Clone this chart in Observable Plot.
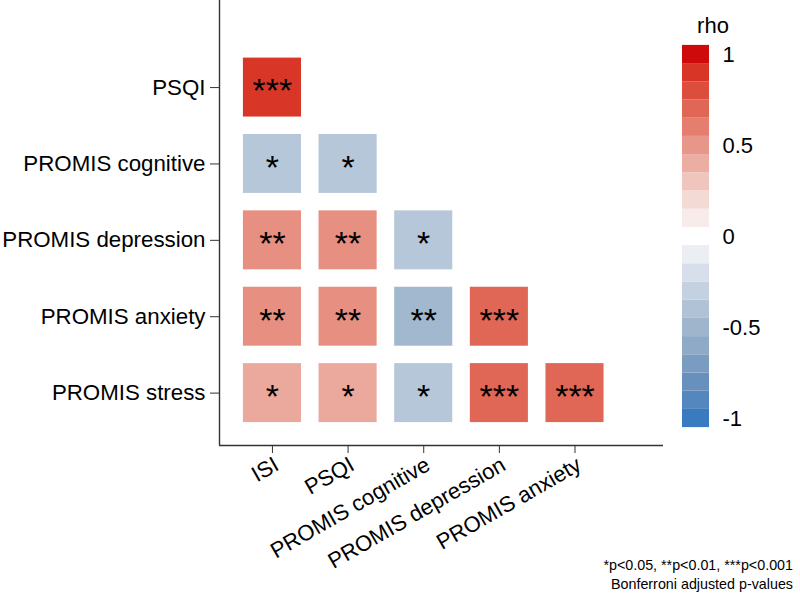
<!DOCTYPE html>
<html>
<head>
<meta charset="utf-8">
<script src="https://cdn.jsdelivr.net/npm/d3@7"></script>
<script src="https://cdn.jsdelivr.net/npm/@observablehq/plot@0.6"></script>
<style>
  html, body { margin: 0; padding: 0; background: #fff; }
  #wrap { position: relative; width: 800px; height: 602px; font-family: "Liberation Sans", Arial, Helvetica, sans-serif; }
  #wrap svg { font-family: "Liberation Sans", Arial, Helvetica, sans-serif; }
  #legend { position: absolute; left: 660px; top: 0; }
  #caption { position: absolute; right: 7px; top: 556px; text-align: right; font-size: 14.3px; line-height: 19px; color: #000; }
</style>
</head>
<body>
<div id="wrap">
  <div id="main"></div>
  <div id="legend"></div>
  <div id="caption">*p&lt;0.05, **p&lt;0.01, ***p&lt;0.001<br>Bonferroni adjusted p-values</div>
</div>
<script>
// ---- data ----
const rowLabels = ["PSQI", "PROMIS cognitive", "PROMIS depression", "PROMIS anxiety", "PROMIS stress"];
const colLabels = ["ISI", "PSQI", "PROMIS cognitive", "PROMIS depression", "PROMIS anxiety"];

const rhoPSQI       = [0.89];
const rhoCognitive  = [-0.37, -0.37];
const rhoDepression = [0.53, 0.53, -0.37];
const rhoAnxiety    = [0.53, 0.53, -0.48, 0.70];
const rhoStress     = [0.42, 0.42, -0.37, 0.70, 0.70];

const sigPSQI       = ["***"];
const sigCognitive  = ["*", "*"];
const sigDepression = ["**", "**", "*"];
const sigAnxiety    = ["**", "**", "**", "***"];
const sigStress     = ["*", "*", "*", "***", "***"];

const legendTicks = [-1, -0.5, 0, 0.5, 1];
const legendSteps = [-1, -0.9, -0.8, -0.7, -0.6, -0.5, -0.4, -0.3, -0.2, -0.1, 0, 0.1, 0.2, 0.3, 0.4, 0.5, 0.6, 0.7, 0.8, 0.9, 1];

// ---- styles ----
const stepColors = ["#3a7bbf", "#5387be", "#6890bd", "#7b9cc1", "#8eaac7", "#9fb5cc", "#b0c3d6", "#c3d1e0", "#d7e0ea", "#ebeef3", "#ffffff",
                    "#f7ecea", "#f3dad5", "#f0c5bd", "#ecaea3", "#e89689", "#e47e6e", "#e06756", "#dc4d3c", "#d83526", "#cf0a0a"];
const colorScale = { type: "linear", domain: legendSteps, range: stepColors };
const font = "Liberation Sans, Arial, Helvetica, sans-serif";

const rhoRows = [rhoPSQI, rhoCognitive, rhoDepression, rhoAnxiety, rhoStress];
const sigRows = [sigPSQI, sigCognitive, sigDepression, sigAnxiety, sigStress];
const cells = rhoRows.flatMap((r, j) => r.map((v, i) => ({ i, j, rho: v, sig: sigRows[j][i] })));
const colIdx = colLabels.map((_, i) => i);
const rowIdx = rowLabels.map((_, j) => j);

const xDomain = [-0.70, 5.17];
const yDomain = [-1.14, 4.686];
const halfW = 0.384, halfH = 0.386;

const main = Plot.plot({
  width: 800, height: 602,
  marginLeft: 219, marginRight: 137, marginTop: 0, marginBottom: 157,
  style: { fontFamily: font, background: "white" },
  x: { type: "linear", domain: xDomain, axis: null },
  y: { type: "linear", domain: yDomain, reverse: true, axis: null },
  color: colorScale,
  marks: [
    Plot.rect(cells, { x1: d => d.i - halfW, x2: d => d.i + halfW, y1: d => d.j - halfH, y2: d => d.j + halfH, fill: "rho" }),
    Plot.text(cells, { x: "i", y: "j", text: "sig", fontSize: 34, dy: 4, fill: "#000" }),
    Plot.ruleX([xDomain[0]], { stroke: "#333", strokeWidth: 1.4 }),
    Plot.ruleY([yDomain[1]], { stroke: "#333", strokeWidth: 1.4 }),
    Plot.axisY({ ticks: rowIdx, tickFormat: j => rowLabels[j], tickSize: 9, tickPadding: 5, fontSize: 22.3, stroke: "#333", fill: "#000", anchor: "left", label: null }),
    Plot.axisX({ ticks: colIdx, tickFormat: i => colLabels[i], tickSize: 8, tickPadding: 2, tickRotate: -30, textAnchor: "end", lineAnchor: "top", fontSize: 22, stroke: "#333", fill: "#000", anchor: "bottom", label: null })
  ]
});
document.getElementById("main").appendChild(main);

const legend = Plot.plot({
  width: 140, height: 450,
  marginLeft: 22, marginRight: 91, marginTop: 54, marginBottom: 32,
  style: { fontFamily: font, background: "transparent" },
  x: { axis: null },
  y: { type: "linear", domain: [-1, 1], axis: null },
  color: colorScale,
  marks: [
    Plot.rect(legendSteps, { y1: d => d - 0.05, y2: d => d + 0.05, fill: d => d }),
    Plot.axisY({ anchor: "right", ticks: legendTicks, tickFormat: d => String(d), tickSize: 0, tickPadding: 13, fontSize: 22, textAnchor: "start", fill: "#000", label: null }),
    Plot.text(["rho"], { frameAnchor: "top", text: d => d, dx: 17, dy: -22, fontSize: 22, fill: "#000", lineAnchor: "bottom" })
  ]
});
document.getElementById("legend").appendChild(legend);
</script>
</body>
</html>
